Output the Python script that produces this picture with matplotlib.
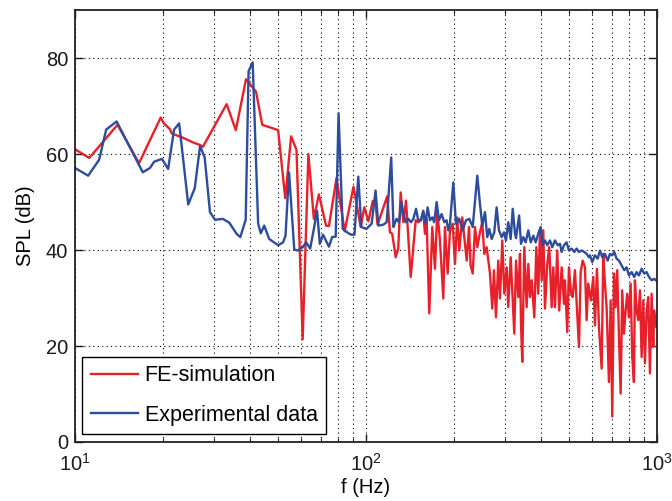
import matplotlib
matplotlib.use("Agg")
import matplotlib.pyplot as plt
from matplotlib.ticker import LogLocator

plt.rcParams['font.family'] = ['Liberation Sans', 'DejaVu Sans']
plt.rcParams['mathtext.fontset'] = 'custom'
plt.rcParams['mathtext.rm'] = 'Liberation Sans'
plt.rcParams['mathtext.it'] = 'Liberation Sans:italic'

# FE-simulation (frequency in Hz, SPL in dB)
fe_freq = [10.0, 11.2, 14.0, 16.6, 19.7, 20.2, 21.2, 21.5, 23.5, 25.5, 26.9, 27.5,
           33.2, 35.7, 38.7, 41.9, 44.0, 49.9, 52.8, 55.3, 57.7, 60.6, 63.4, 66.2,
           68.9, 72.9, 74.6, 79.2, 84.5, 90.6, 95.9, 98.7, 101.9, 105.5, 107.6, 109.6,
           118.3, 120.9, 123.1, 126.5, 129.1, 131.6, 134.4, 137.3, 142.5, 148.2, 151.2,
           154.2, 157.4, 159.5, 161.6, 165.0, 169.0, 172.6, 175.8, 179.6, 184.4, 186.8,
           190.9, 194.4, 198.6, 202.2, 206.0, 209.2, 214.3, 221.9, 226.0, 228.8, 232.7,
           237.0, 241.3, 246.5, 251.0, 255.0, 259.8, 266.8, 271.7, 275.4, 279.8, 284.9,
           288.8, 294.1, 298.8, 304.4, 308.3, 314.3, 319.4, 323.4, 327.8, 333.8, 338.3,
           341.0, 344.5, 350.0, 356.6, 361.3, 366.2, 371.2, 378.9, 385.0, 391.0, 396.3,
           401.7, 406.8, 412.3, 419.8, 426.5, 434.7, 440.3, 446.2, 454.4, 461.4, 470.5,
           479.2, 482.9, 491.8, 498.4, 506.4, 513.3, 522.6, 532.2, 539.5, 546.8, 555.5,
           565.7, 573.2, 580.6, 593.2, 604.1, 612.2, 622.1, 631.9, 645.7, 653.9, 662.7,
           671.5, 683.9, 693.3, 702.1, 711.6, 721.0, 730.3, 740.3, 750.4, 759.9, 770.2,
           780.5, 790.5, 801.2, 812.1, 822.5, 833.6, 840.2, 851.3, 862.4, 874.1, 886.0,
           897.3, 909.3, 921.4, 933.4, 946.1, 959.0, 971.2, 978.8, 995.0]
fe_spl = [61.0, 59.2, 66.1, 58.1, 67.6, 66.4, 65.2, 64.3, 63.4, 62.4, 61.9, 61.5,
          70.4, 65.0, 75.6, 73.0, 66.1, 65.0, 50.8, 63.7, 60.9, 21.4, 60.0, 46.5,
          51.6, 45.1, 45.0, 55.0, 43.9, 53.2, 44.8, 48.9, 46.0, 50.2, 50.3, 45.3,
          51.2, 43.7, 43.4, 38.5, 40.3, 52.0, 45.8, 50.3, 34.4, 46.2, 45.8,
          46.2, 47.9, 43.4, 46.5, 26.8, 44.8, 36.1, 48.2, 42.0, 29.9, 44.8,
          35.1, 44.0, 45.5, 37.1, 46.8, 39.9, 46.8, 37.8, 44.8, 36.8, 35.1,
          44.8, 40.6, 43.7, 45.8, 39.2, 40.6, 35.1, 27.8, 35.8, 26.0, 37.8,
          29.9, 42.0, 30.9, 36.4, 28.1, 38.5, 29.5, 22.6, 37.8, 30.2, 39.2,
          24.7, 16.7, 40.6, 28.1, 37.1, 30.2, 33.7, 26.0, 40.6, 30.9, 44.1,
          33.7, 44.1, 27.8, 37.1, 40.6, 28.1, 36.4, 28.1, 39.9, 27.4, 36.4,
          28.8, 33.7, 22.9, 36.4, 30.9, 30.2, 35.8, 26.8, 19.8, 35.4, 37.8,
          36.4, 25.4, 33.0, 29.5, 34.4, 24.3, 36.1, 24.0, 15.3, 39.2, 33.0,
          28.1, 12.5, 29.5, 5.3, 35.1, 28.1, 35.8, 22.2, 10.1, 31.6, 22.6,
          27.4, 30.9, 26.0, 33.0, 17.7, 12.5, 33.7, 27.4, 25.4, 31.6, 17.7,
          29.5, 16.4, 27.4, 30.2, 14.3, 30.9, 19.8, 27.4, 24.0]

# Experimental data
exp_freq = [10.0, 11.1, 12.1, 12.8, 13.9, 17.1, 18.1, 18.7, 19.9, 20.9, 21.9, 22.8,
            24.5, 25.8, 26.9, 27.9, 29.1, 30.3, 32.2, 33.9, 35.9, 37.0, 38.6, 39.5,
            40.8, 42.6, 43.5, 44.7, 46.5, 49.9, 51.9, 52.9, 54.4, 56.7, 58.4, 60.6,
            62.3, 64.3, 66.2, 67.9, 69.4, 71.2, 74.6, 76.5, 78.7, 80.5, 83.2, 87.1,
            88.9, 91.3, 94.1, 96.4, 100.4, 104.6, 107.9, 110.3, 114.8, 117.8, 122.1,
            124.3, 126.0, 127.4, 129.9, 132.5, 134.4, 137.1, 139.8, 142.8, 145.5, 148.6,
            151.2, 154.5, 157.4, 160.3, 162.9, 165.9, 169.0, 171.6, 174.9, 178.2, 182.0,
            185.8, 189.3, 191.7, 194.4, 199.6, 203.8, 209.2, 214.9, 220.6, 226.5, 232.7,
            237.0, 241.3, 246.5, 251.0, 256.4, 261.1, 265.3, 270.4, 276.0, 281.2, 286.5,
            292.7, 298.1, 302.8, 308.3, 314.3, 319.4, 325.2, 327.8, 336.0, 341.0, 347.3,
            353.8, 361.3, 368.3, 375.9, 383.0, 391.0, 398.5, 404.9, 412.3, 419.8, 428.9,
            436.8, 446.2, 455.8, 464.2, 470.5, 479.2, 489.3, 498.4, 509.2, 519.8, 529.6,
            539.5, 551.2, 562.6, 573.2, 583.8, 588.5, 599.3, 612.2, 625.5, 637.0, 648.7,
            662.7, 677.0, 689.4, 702.1, 713.3, 726.7, 740.3, 756.3, 772.0, 786.6, 801.2,
            818.6, 835.5, 851.3, 867.2, 886.0, 904.3, 921.4, 938.6, 959.0, 978.8, 1000.0]
exp_spl = [57.1, 55.5, 58.8, 65.1, 66.8, 56.2, 57.1, 58.4, 59.0, 56.9, 65.1, 66.4,
           49.5, 52.9, 61.7, 59.3, 47.9, 46.3, 46.5, 45.7, 43.4, 42.7, 46.3, 77.3,
           79.1, 45.5, 43.5, 45.1, 42.3, 41.0, 41.6, 43.0, 56.2, 40.1, 39.9, 40.6,
           41.6, 40.3, 44.4, 48.2, 41.3, 43.2, 40.7, 42.7, 42.8, 68.5, 44.4, 43.5,
           43.2, 43.2, 55.3, 44.8, 44.4, 45.5, 52.4, 45.1, 45.3, 45.8, 59.3,
           44.8, 45.8, 46.5, 45.8, 50.0, 47.5, 45.8, 46.5, 45.8, 46.5, 48.6,
           46.2, 46.2, 48.2, 45.5, 48.9, 46.2, 46.8, 45.8, 50.0, 46.2, 47.5,
           45.8, 46.2, 44.1, 45.5, 54.1, 45.5, 46.5, 44.1, 46.2, 46.5, 44.8,
           50.3, 55.5, 49.6, 45.1, 47.9, 42.7, 44.4, 42.3, 43.7, 48.9, 44.1,
           42.7, 43.7, 42.0, 45.8, 42.3, 48.6, 43.4, 42.5, 47.2, 41.3, 42.7,
           41.6, 44.1, 41.6, 43.0, 41.6, 43.4, 44.8, 41.0, 42.0, 41.0, 42.0,
           40.6, 42.0, 41.0, 41.3, 39.6, 41.0, 41.6, 39.9, 40.3, 39.6, 40.3,
           39.6, 39.9, 39.6, 39.2, 38.5, 38.9, 37.5, 38.9, 38.2, 39.9, 38.5,
           39.2, 37.8, 39.2, 38.9, 39.6, 38.2, 37.8, 36.8, 35.8, 36.4, 34.7,
           35.4, 34.4, 35.4, 34.7, 36.1, 35.1, 35.4, 34.4, 33.7, 34.0, 33.5]

fig = plt.figure(figsize=(6.72, 5.01), dpi=100)
ax = fig.add_axes([0.1116, 0.1178, 0.866, 0.862])

ax.plot(fe_freq, fe_spl, color='#E8202A', lw=1.7, label='FE-simulation')
ax.plot(exp_freq, exp_spl, color='#2D4C9E', lw=1.7, label='Experimental data')

ax.set_xscale('log')
ax.set_xlim(10, 1000)
ax.set_ylim(0, 90)
ax.set_yticks([0, 20, 40, 60, 80])
ax.xaxis.set_minor_locator(LogLocator(base=10, subs=range(2, 10)))
ax.xaxis.set_minor_formatter(plt.NullFormatter())

ax.grid(True, which='major', color='black', linestyle=(0, (1, 3)), lw=0.8)
ax.grid(True, which='minor', axis='x', color='black', linestyle=(0, (1, 3)), lw=0.8)
ax.tick_params(which='both', direction='in', top=True, right=True, labelsize=14.5,
               colors='#1a1a1a')
ax.tick_params(which='major', length=6, width=1.0, pad=5)
ax.tick_params(axis='x', which='major', pad=8)
ax.tick_params(which='minor', length=3, width=0.8)
for s in ax.spines.values():
    s.set_linewidth(1.3)
    s.set_color('#222222')

ax.set_xlabel('f (Hz)', fontsize=14.5, labelpad=2)
ax.set_ylabel('SPL (dB)', fontsize=14.5, labelpad=8)

leg = ax.legend(loc='lower left', bbox_to_anchor=(0.0125, 0.018), borderaxespad=0,
                fontsize=15.5, handlelength=2.2, labelspacing=0.85, fancybox=False,
                framealpha=1, edgecolor='black', borderpad=0.4, handletextpad=0.3)
leg.get_frame().set_linewidth(1.0)

fig.savefig('out.png', dpi=100)
